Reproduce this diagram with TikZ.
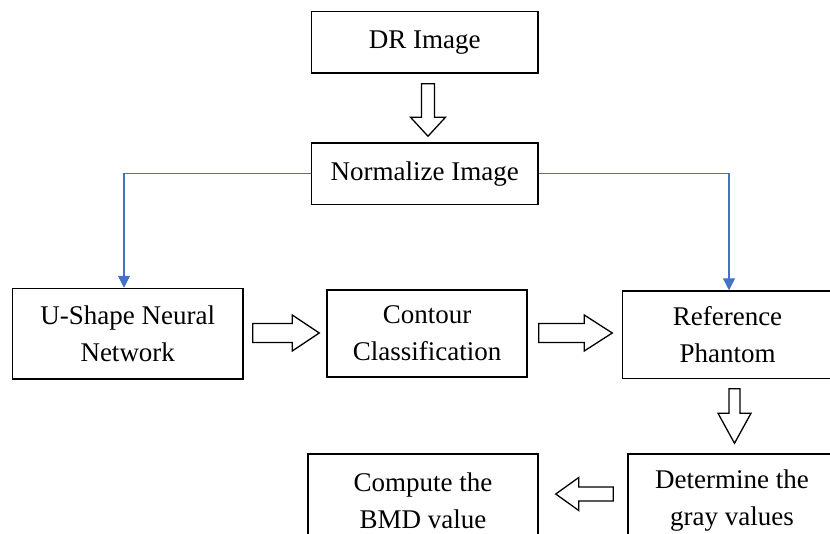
\documentclass[tikz,border=0pt]{standalone}
\usepackage{fontspec}
\setmainfont{LiberationSerif}[Extension=.ttf, UprightFont=*-Regular, BoldFont=*-Bold]
\usetikzlibrary{calc,arrows.meta}
\definecolor{linkblue}{HTML}{4472C4}
\tikzset{
  box/.style={draw=black, line width=1.5pt, fill=white, align=center,
    inner sep=0pt, font=\fontsize{27}{37}\selectfont},
  hollow/.style={draw=black, line width=1.3pt, fill=white, line join=miter},
  link/.style={draw=linkblue, line width=1.3pt,
    -{Triangle[width=12pt,length=12pt]}},
}
% hollow block arrow, vertical: tail #1, tip #2, half shaft #3, half head #4, head length #5
\newcommand\blockv[5]{%
  \draw[hollow] ($(#1)+({-(#3)},0)$) -- ($(#2)+({-(#3)},{-(#5)})$)
    -- ($(#2)+({-(#4)},{-(#5)})$) -- (#2) -- ($(#2)+(#4,{-(#5)})$)
    -- ($(#2)+(#3,{-(#5)})$) -- ($(#1)+(#3,0)$) -- cycle;}
% hollow block arrow, horizontal: tail #1, tip #2, half shaft #3, half head #4, signed head length #5
\newcommand\blockh[5]{%
  \draw[hollow] ($(#1)+(0,{-(#3)})$) -- ($(#2)+({-(#5)},{-(#3)})$)
    -- ($(#2)+({-(#5)},{-(#4)})$) -- (#2) -- ($(#2)+({-(#5)},#4)$)
    -- ($(#2)+({-(#5)},#3)$) -- ($(#1)+(0,#3)$) -- cycle;}
\begin{document}
\begin{tikzpicture}[x=1pt,y=-1pt]
  \clip (0,0) rectangle (830,533);
  \fill[white] (0,0) rectangle (830,533);

  % boxes
  \node[box, minimum width=226.5pt, minimum height=61.5pt] (dr) at (424.75,42.25) {DR Image};
  \node[box, minimum width=226.5pt, minimum height=61.5pt] (norm) at (424.75,173.75) {Normalize Image};
  \node[box, minimum width=230.5pt, minimum height=90.5pt] (unet) at (127.75,333.75) {U-Shape Neural\\Network};
  \node[box, minimum width=200pt, minimum height=87pt] (contour) at (427,333.5) {Contour\\Classification};
  \node[box, minimum width=210pt, minimum height=87.5pt] (ref) at (727.5,334.75) {Reference\\Phantom};
  \node[box, minimum width=208pt, minimum height=93pt] (det) at (732,500.5) {Determine the\\gray values};
  \node[box, minimum width=230pt, minimum height=93pt] (comp) at (423,500.5) {Compute the\\BMD value};

  % blue branches from the normalized image
  \draw[link] (norm.west) -| ($(unet.north)+(-3.75,0)$);
  \draw[link] (norm.east) -| ($(ref.north)+(1.5,0)$);

  % hollow process arrows
  \coordinate (a1s) at ($(dr.south)+(3.25,10)$);
  \coordinate (a1t) at ($(norm.north)+(3.25,-6)$);
  \blockv{a1s}{a1t}{6.5}{17.5}{19}

  \coordinate (a2s) at ($(unet.east)+(9,-0.75)$);
  \coordinate (a2t) at ($(contour.west)+(-7,-0.5)$);
  \blockh{a2s}{a2t}{9.5}{18}{27}

  \coordinate (a3s) at ($(contour.east)+(11,-0.5)$);
  \coordinate (a3t) at ($(ref.west)+(-9.5,-1.75)$);
  \blockh{a3s}{a3t}{9.5}{18}{28}

  \coordinate (a4s) at ($(ref.south)+(7,9.5)$);
  \coordinate (a4t) at ($(det.north)+(2.5,-10)$);
  \blockv{a4s}{a4t}{5.5}{16.5}{30}

  \coordinate (a5s) at ($(det.west)+(-14,-6.5)$);
  \coordinate (a5t) at ($(comp.east)+(17,-6.5)$);
  \blockh{a5s}{a5t}{7}{16.5}{-23}
\end{tikzpicture}
\end{document}
